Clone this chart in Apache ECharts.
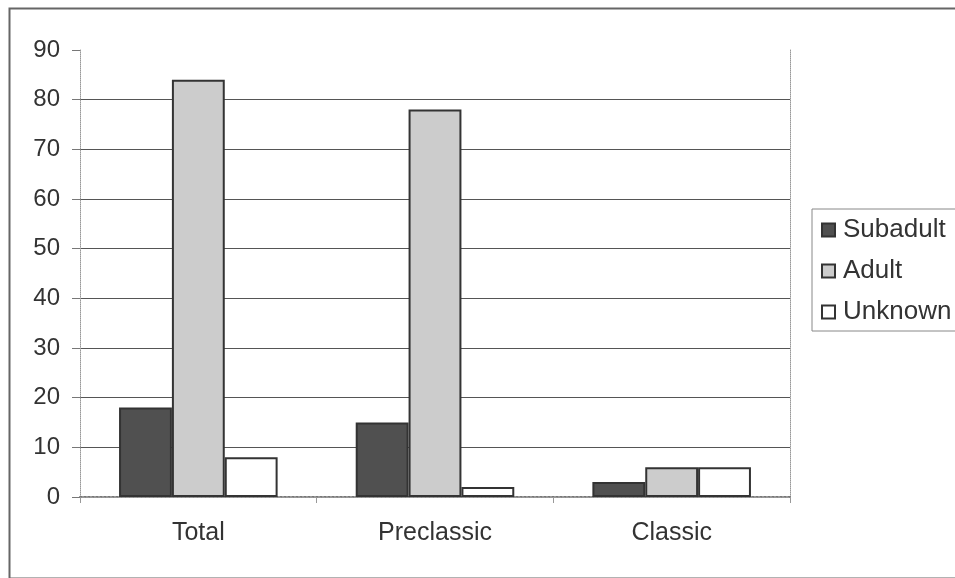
<!DOCTYPE html>
<html>
<head>
<meta charset="utf-8">
<script src="https://cdn.jsdelivr.net/npm/echarts@6/dist/echarts.min.js"></script>
<style>html,body{margin:0;padding:0;background:#fff}#c{width:955px;height:578px}</style>
</head>
<body>
<div id="c"></div>
<script>
var categories = ['Total', 'Preclassic', 'Classic'];
var subadult = [18, 15, 3];
var adult = [84, 78, 6];
var unknown = [8, 2, 6];
var yTicks = [0, 10, 20, 30, 40, 50, 60, 70, 80, 90];

var chart = echarts.init(document.getElementById('c'), null, {renderer: 'canvas'});
var font = 'Liberation Sans, Arial, sans-serif';
var gridColors = yTicks.map(function (v, i) { return i === 0 || i === yTicks.length - 1 ? 'rgba(0,0,0,0)' : '#555'; });
chart.setOption({
  animation: false,
  backgroundColor: '#fff',
  graphic: [{
    type: 'rect', left: 7, top: 6, shape: {width: 960, height: 570},
    style: {fill: 'none', stroke: '#666', lineWidth: 2}, silent: true
  }],
  grid: {left: 80, right: 165, top: 50, bottom: 81},
  legend: {
    orient: 'vertical', left: 812, top: 209,
    data: ['Subadult', 'Adult', 'Unknown'],
    itemWidth: 13, itemHeight: 13, itemGap: 15,
    borderColor: '#888', borderWidth: 1, padding: [8, 40, 6, 9],
    textStyle: {fontFamily: font, fontSize: 26, color: '#333', padding: [0, 0, 0, 3]},
    icon: 'rect'
  },
  xAxis: [{
    type: 'category', data: categories,
    axisLine: {lineStyle: {color: '#777', type: 'dotted', width: 2}},
    axisTick: {show: true, length: 6, lineStyle: {color: '#999'}},
    axisLabel: {fontFamily: font, fontSize: 25, color: '#333', margin: 24}
  }, {
    type: 'category', data: categories, position: 'top',
    axisLine: {show: true, lineStyle: {color: '#999', type: 'dotted'}},
    axisTick: {show: false}, axisLabel: {show: false}
  }],
  yAxis: [{
    type: 'value', min: 0, max: 90, interval: 10,
    axisLine: {show: true, lineStyle: {color: '#999', type: 'dotted'}},
    axisTick: {show: true, length: 8, lineStyle: {color: '#777'}},
    axisLabel: {fontFamily: font, fontSize: 24, color: '#333', margin: 20},
    splitLine: {show: true, lineStyle: {color: gridColors, width: 1}}
  }, {
    type: 'value', min: 0, max: 90, interval: 10, position: 'right',
    axisLine: {show: true, lineStyle: {color: '#999', type: 'dotted'}},
    axisTick: {show: false}, axisLabel: {show: false}, splitLine: {show: false}
  }],
  series: [{
    name: 'Subadult', type: 'bar', data: subadult,
    barCategoryGap: '33%', barGap: '0%',
    itemStyle: {color: '#505050', borderColor: '#333', borderWidth: 2}
  }, {
    name: 'Adult', type: 'bar', data: adult,
    barCategoryGap: '33%', barGap: '0%',
    itemStyle: {color: '#cccccc', borderColor: '#333', borderWidth: 2}
  }, {
    name: 'Unknown', type: 'bar', data: unknown,
    barCategoryGap: '33%', barGap: '0%',
    itemStyle: {color: '#ffffff', borderColor: '#333', borderWidth: 2}
  }]
});
</script>
</body>
</html>
